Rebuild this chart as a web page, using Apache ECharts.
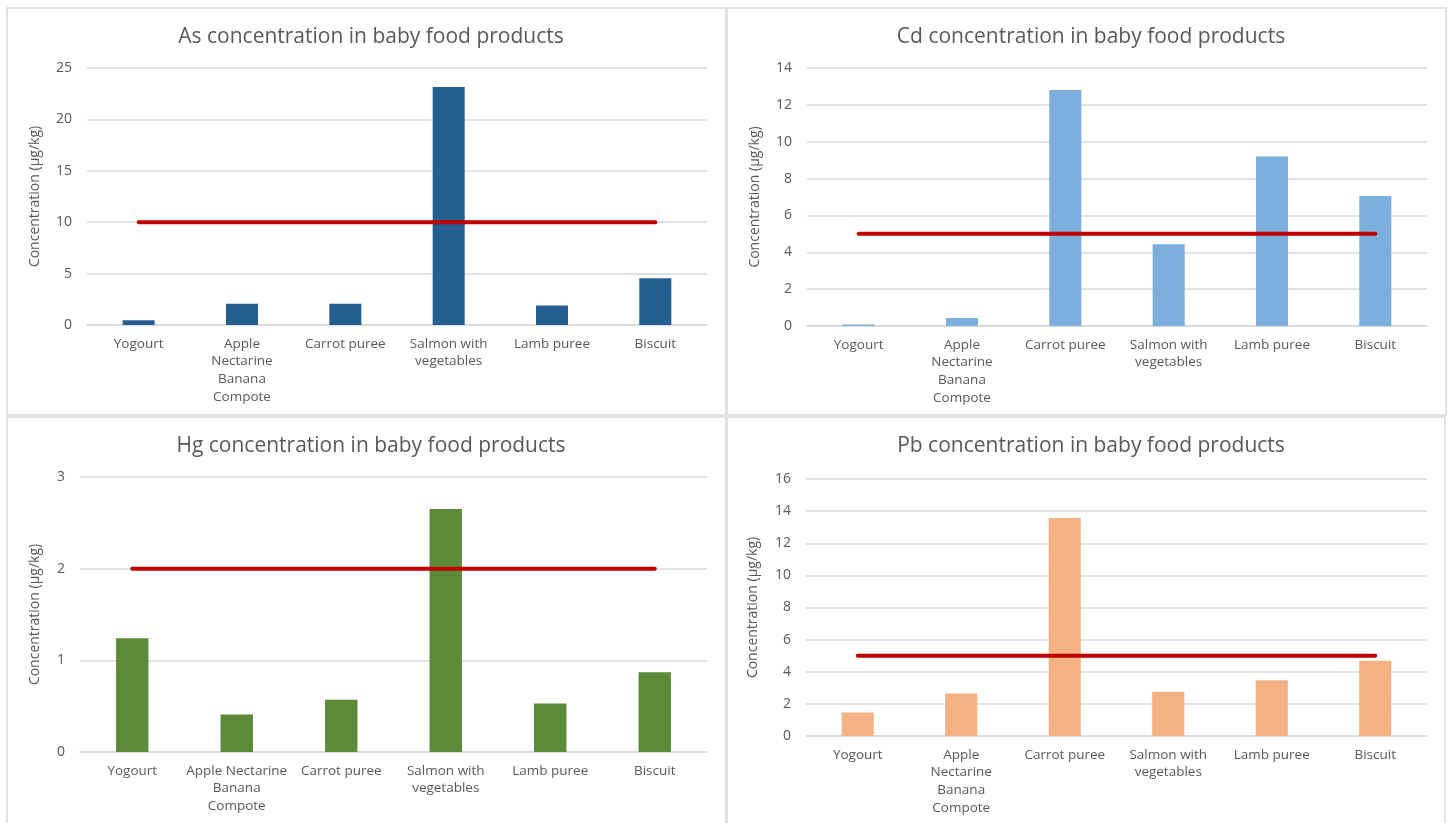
<!DOCTYPE html>
<html>
<head>
<meta charset="utf-8">
<title>Heavy metal concentration in baby food products</title>
<script src="https://cdn.jsdelivr.net/npm/echarts@6/dist/echarts.min.js"></script>
<style>
  html, body { margin: 0; padding: 0; background: #ffffff; }
  #chart { width: 1450px; height: 823px; }
</style>
</head>
<body>
<div id="chart"></div>
<script>
// Products tested (tick labels per panel, with the line breaks as drawn)
const products = ['Yogourt', 'Apple Nectarine Banana Compote', 'Carrot puree', 'Salmon with vegetables', 'Lamb puree', 'Biscuit'];
const tickLabels = ['Yogourt', 'Apple\nNectarine\nBanana\nCompote', 'Carrot puree', 'Salmon with\nvegetables', 'Lamb puree', 'Biscuit'];
const tickLabelsHg = ['Yogourt', 'Apple Nectarine\nBanana\nCompote', 'Carrot puree', 'Salmon with\nvegetables', 'Lamb puree', 'Biscuit'];

// Measured concentrations (µg/kg)
const asValues = [0.45, 2.07, 2.07, 23.15, 1.9, 4.55];
const cdValues = [0.08, 0.43, 12.8, 4.43, 9.2, 7.05];
const hgValues = [1.24, 0.41, 0.57, 2.65, 0.53, 0.87];
const pbValues = [1.46, 2.65, 13.57, 2.75, 3.47, 4.69];

// Maximum permitted levels (µg/kg)
const asLimit = 10;
const cdLimit = 5;
const hgLimit = 2;
const pbLimit = 5;

// Value axis ranges: [max, interval]
const asAxis = [25, 5];
const cdAxis = [14, 2];
const hgAxis = [3, 1];
const pbAxis = [16, 2];

const panels = [
  { metal: 'As', values: asValues, limit: asLimit, axis: asAxis, labels: tickLabels, color: '#255E91',
    box: [7, 8, 719, 407], grid: { left: 87, top: 68, width: 620, height: 257 }, titleX: 366, titleY: 22, nameGap: 45 },
  { metal: 'Cd', values: cdValues, limit: cdLimit, axis: cdAxis, labels: tickLabels, color: '#7CAFDD',
    box: [727, 8, 719, 407], grid: { left: 807, top: 68, width: 620, height: 258 }, titleX: 1086, titleY: 22, nameGap: 45 },
  { metal: 'Hg', values: hgValues, limit: hgLimit, axis: hgAxis, labels: tickLabelsHg, color: '#5B8B39',
    box: [7, 417, 719, 412], grid: { left: 80, top: 477, width: 627, height: 275 }, titleX: 366, titleY: 431, nameGap: 38 },
  { metal: 'Pb', values: pbValues, limit: pbLimit, axis: pbAxis, labels: tickLabels, color: '#F4B183',
    box: [727, 417, 718, 412], grid: { left: 806, top: 479, width: 621, height: 257 }, titleX: 1086, titleY: 431, nameGap: 46 }
];

const FONT = '"Open Sans", "Liberation Sans", sans-serif';
const TEXT = '#595959';
const GRID_LINE = '#D9D9D9';

const option = {
  backgroundColor: '#ffffff',
  animation: false,
  title: panels.map(p => ({
    text: p.metal + ' concentration in baby food products',
    left: p.titleX,
    top: p.titleY,
    textAlign: 'center',
    textStyle: { fontFamily: FONT, fontSize: 21, fontWeight: 'normal', color: TEXT }
  })),
  graphic: panels.map(p => ({
    type: 'rect',
    shape: { x: p.box[0], y: p.box[1], width: p.box[2], height: p.box[3] },
    style: { fill: 'none', stroke: '#D9D9D9', lineWidth: 1.5 },
    silent: true,
    z: -1
  })),
  grid: panels.map(p => Object.assign({ containLabel: false }, p.grid)),
  xAxis: panels.map((p, i) => ({
    type: 'category',
    gridIndex: i,
    data: p.labels,
    axisTick: { show: false },
    axisLine: { show: true, lineStyle: { color: GRID_LINE, width: 1.5 } },
    axisLabel: { color: TEXT, fontFamily: FONT, fontSize: 13.5, lineHeight: 17.7, margin: 10, interval: 0 }
  })),
  yAxis: panels.map((p, i) => ({
    type: 'value',
    gridIndex: i,
    min: 0,
    max: p.axis[0],
    interval: p.axis[1],
    name: 'Concentration (µg/kg)',
    nameLocation: 'middle',
    nameGap: p.nameGap,
    nameRotate: 90,
    nameTextStyle: { color: TEXT, fontFamily: FONT, fontSize: 14 },
    axisLine: { show: false },
    axisTick: { show: false },
    axisLabel: { color: TEXT, fontFamily: FONT, fontSize: 14, margin: 15 },
    splitLine: { lineStyle: { color: GRID_LINE, width: 1.5 } }
  })),
  series: panels.flatMap((p, i) => [
    {
      name: p.metal,
      type: 'bar',
      xAxisIndex: i,
      yAxisIndex: i,
      data: p.values,
      barWidth: '31%',
      itemStyle: { color: p.color },
      z: 2
    },
    {
      name: p.metal + ' limit',
      type: 'line',
      xAxisIndex: i,
      yAxisIndex: i,
      data: products.map(() => p.limit),
      symbol: 'none',
      lineStyle: { color: '#C00000', width: 4, cap: 'round' },
      z: 3
    }
  ])
};

const chart = echarts.init(document.getElementById('chart'), null, { renderer: 'canvas' });
chart.setOption(option);
</script>
</body>
</html>
